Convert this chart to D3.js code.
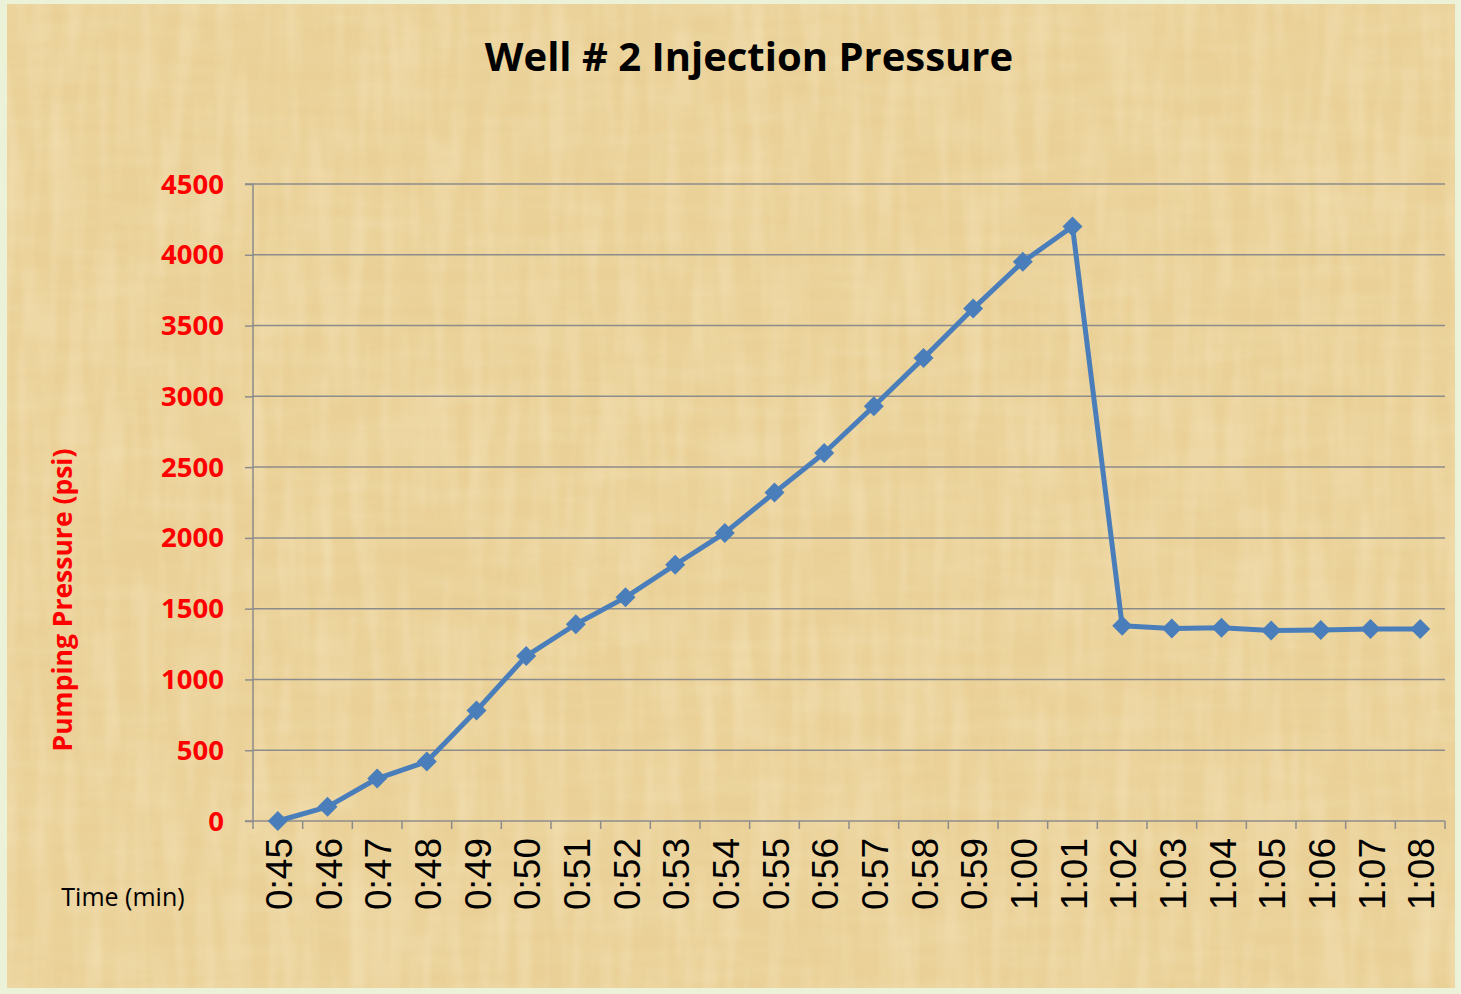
<!DOCTYPE html>
<html><head><meta charset="utf-8">
<script src="https://cdn.jsdelivr.net/npm/d3@7"></script>
<style>html,body{margin:0;padding:0;background:#ebf2d8;}svg{display:block}</style>
</head><body>
<svg id="chart" width="1461" height="994"></svg>
<script>
const categories = ["0:45","0:46","0:47","0:48","0:49","0:50","0:51","0:52","0:53","0:54","0:55","0:56","0:57","0:58","0:59","1:00","1:01","1:02","1:03","1:04","1:05","1:06","1:07","1:08"];
const pressure = [0,100,300,420,780,1165,1390,1580,1810,2035,2320,2600,2930,3270,3620,3950,4200,1380,1360,1365,1345,1350,1356,1356];
const yTicks = [0,500,1000,1500,2000,2500,3000,3500,4000,4500];
const title = "Well # 2 Injection Pressure";
const yLabel = "Pumping Pressure (psi)";
const xLabel = "Time (min)";

(function(){
const svg = d3.select("#chart");
const W = 1461, H = 994;
const defs = svg.append("defs");
const f = defs.append("filter").attr("id","paper").attr("x",0).attr("y",0).attr("width","100%").attr("height","100%");
f.append("feTurbulence").attr("type","fractalNoise").attr("baseFrequency","0.01 0.06").attr("numOctaves",3).attr("seed",7).attr("result","n");
f.append("feColorMatrix").attr("in","n").attr("type","matrix")
  .attr("values","0 0 0 0 0.86  0 0 0 0 0.72  0 0 0 0 0.42  1.2 0 0 0 -0.4").attr("result","c");
f.append("feComposite").attr("in","c").attr("in2","SourceGraphic").attr("operator","in");
const f2 = defs.append("filter").attr("id","paper2").attr("x",0).attr("y",0).attr("width","100%").attr("height","100%");
f2.append("feTurbulence").attr("type","fractalNoise").attr("baseFrequency","0.06 0.008").attr("numOctaves",2).attr("seed",3).attr("result","n");
f2.append("feColorMatrix").attr("in","n").attr("type","matrix")
  .attr("values","0 0 0 0 0.97  0 0 0 0 0.88  0 0 0 0 0.66  1.2 0 0 0 -0.45").attr("result","c");
f2.append("feComposite").attr("in","c").attr("in2","SourceGraphic").attr("operator","in");

svg.append("rect").attr("x",0).attr("y",0).attr("width",W).attr("height",H).attr("fill","#ebf2d8");
svg.append("rect").attr("x",7).attr("y",4).attr("width",1448).attr("height",984).attr("fill","#ead096");
svg.append("rect").attr("x",7).attr("y",4).attr("width",1448).attr("height",984).attr("fill","#ead096").attr("filter","url(#paper)").attr("opacity",0.6);
svg.append("rect").attr("x",7).attr("y",4).attr("width",1448).attr("height",984).attr("fill","#ead096").attr("filter","url(#paper2)").attr("opacity",0.5);

const mL = 253, mR = 1445, mT = 184, mB = 821;
const x = d3.scaleBand().domain(categories).range([mL,mR]).paddingInner(0).paddingOuter(0);
const y = d3.scaleLinear().domain([0,4500]).range([mB,mT]);
const font = "'Open Sans', 'Liberation Sans', sans-serif";

svg.append("g").selectAll("line").data(yTicks.filter(d=>d>0)).join("line")
  .attr("x1",mL).attr("x2",mR).attr("y1",d=>y(d)).attr("y2",d=>y(d))
  .attr("stroke","#8c8c8c").attr("stroke-width",1.5);

const yAxis = svg.append("g").attr("transform",`translate(${mL},0)`)
  .call(d3.axisLeft(y).tickValues(yTicks).tickSize(8).tickPadding(20).tickFormat(d3.format("d")));
yAxis.select(".domain").attr("stroke","#8c8c8c").attr("stroke-width",1.5).attr("d",`M-8,${mT}H0V${mB}H-8`);
yAxis.selectAll(".tick line").attr("stroke","#8c8c8c").attr("stroke-width",1.5);
yAxis.selectAll(".tick text").attr("fill","#ff0000").attr("font-family",font)
  .attr("font-weight","bold").attr("font-size",27.5).attr("dy","0.33em").attr("x",-29);

const xAxis = svg.append("g").attr("transform",`translate(0,${mB})`);
xAxis.append("line").attr("x1",mL).attr("x2",mR).attr("stroke","#8c8c8c").attr("stroke-width",1.5);
const bounds = categories.map(c=>x(c)).concat([mR]);
xAxis.selectAll("line.tk").data(bounds).join("line").attr("class","tk")
  .attr("x1",d=>d).attr("x2",d=>d).attr("y1",0).attr("y2",8).attr("stroke","#8c8c8c").attr("stroke-width",1.5);
xAxis.selectAll("text").data(categories).join("text")
  .attr("transform",d=>`translate(${x(d)+x.bandwidth()/2+14},17) rotate(-90)`)
  .attr("text-anchor","end").attr("font-family","'Liberation Sans', Arial, sans-serif")
  .attr("font-size",37).attr("fill","#000").text(d=>d);

const cx = d=>x(d)+x.bandwidth()/2;
const data = categories.map((c,i)=>({c,v:pressure[i]}));
svg.append("path").datum(data)
  .attr("d",d3.line().x(d=>cx(d.c)).y(d=>y(d.v)))
  .attr("fill","none").attr("stroke","#4a7ebb").attr("stroke-width",5).attr("stroke-linejoin","round");
svg.append("g").selectAll("path").data(data).join("path")
  .attr("transform",d=>`translate(${cx(d.c)},${y(d.v)})`)
  .attr("d","M0,-10L10,0L0,10L-10,0Z").attr("fill","#4a7ebb");

svg.append("text").attr("x",749).attr("y",71).attr("text-anchor","middle")
  .attr("font-family",font).attr("font-weight","bold")
  .attr("font-size",40).attr("fill","#000").text(title);
svg.append("text").attr("transform","translate(72,600) rotate(-90)").attr("text-anchor","middle")
  .attr("font-family",font).attr("font-weight","bold")
  .attr("font-size",26.5).attr("fill","#ff0000").text(yLabel);
svg.append("text").attr("x",123).attr("y",906).attr("text-anchor","middle")
  .attr("font-family",font)
  .attr("font-size",25).attr("fill","#000").text(xLabel);
})();
</script>
</body></html>
